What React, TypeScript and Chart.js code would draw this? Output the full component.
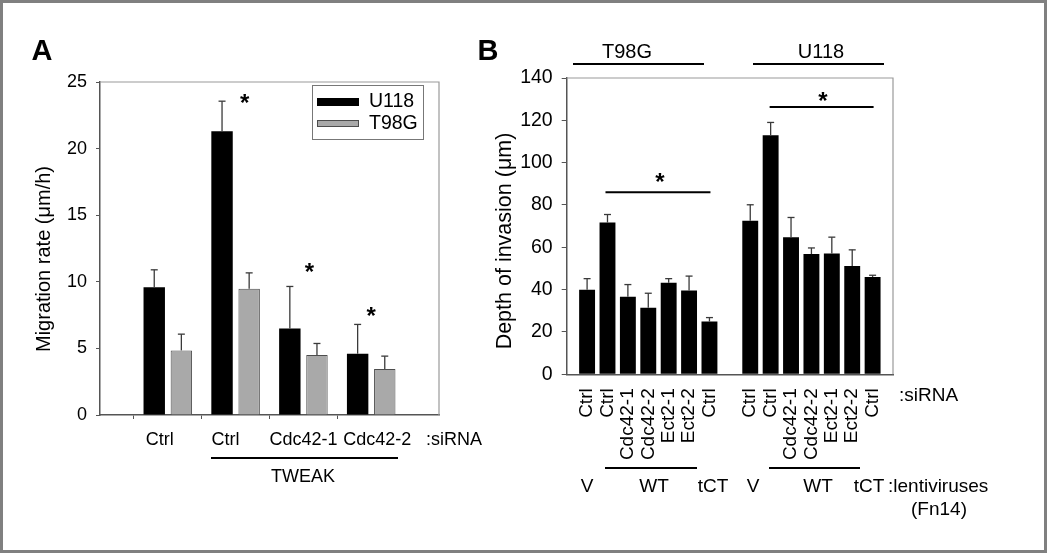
import React, { useEffect, useRef } from 'react';
import { Chart, registerables } from 'chart.js';
Chart.register(...registerables);

// ---------- Panel A data ----------
const migrationCategories = ['', 'Ctrl', 'Ctrl', 'Cdc42-1', 'Cdc42-2', ''];
const u118Migration = [null, 9.6, 21.3, 6.5, 4.6, null];
const u118MigrationErr = [null, 1.3, 2.26, 3.15, 2.2, null];
const t98gMigration = [null, 4.85, 9.47, 4.5, 3.45, null];
const t98gMigrationErr = [null, 1.22, 1.2, 0.87, 0.97, null];
const migrationYTicks = { min: 0, max: 25, step: 5 };

// ---------- Panel B data ----------
const invasionLabels = ['', 'Ctrl', 'Ctrl', 'Cdc42-1', 'Cdc42-2', 'Ect2-1', 'Ect2-2', 'Ctrl', '', 'Ctrl', 'Ctrl', 'Cdc42-1', 'Cdc42-2', 'Ect2-1', 'Ect2-2', 'Ctrl', ''];
const invasionDepth = [null, 39.9, 71.7, 36.7, 31.5, 43.3, 39.6, 24.9, null, 72.5, 113.0, 64.8, 56.8, 57.1, 51.2, 46.0, null];
const invasionErr = [null, 5.3, 3.8, 5.7, 6.8, 1.9, 6.8, 1.9, null, 7.6, 6.0, 9.3, 2.9, 7.7, 7.6, 0.8, null];
const invasionYTicks = { min: 0, max: 140, step: 20 };
const lentivirusLabels = ['V', 'WT', 'tCT', 'V', 'WT', 'tCT'];

const FONT = '"Liberation Sans", Arial, sans-serif';
const AXIS = '#555';

function text(ctx: CanvasRenderingContext2D, s: string, x: number, y: number, size: number, align: CanvasTextAlign = 'center', bold = false, rot = 0) {
  ctx.save();
  ctx.font = `${bold ? 'bold ' : ''}${size}px ${FONT}`;
  ctx.fillStyle = '#000';
  ctx.textAlign = align;
  ctx.textBaseline = 'middle';
  ctx.translate(x, y);
  if (rot) ctx.rotate(rot);
  ctx.fillText(s, 0, 0);
  ctx.restore();
}
function line(ctx: CanvasRenderingContext2D, x1: number, y1: number, x2: number, y2: number, w = 2, c = '#000') {
  ctx.save();
  ctx.strokeStyle = c;
  ctx.lineWidth = w;
  ctx.beginPath();
  ctx.moveTo(x1, y1);
  ctx.lineTo(x2, y2);
  ctx.stroke();
  ctx.restore();
}
function star(ctx: CanvasRenderingContext2D, x: number, y: number) {
  text(ctx, '*', x, y + 5, 24, 'center', true);
}
function frame(chart: any) {
  const { ctx, chartArea: a } = chart;
  ctx.save();
  ctx.strokeStyle = '#9a9a9a';
  ctx.lineWidth = 1.2;
  ctx.beginPath();
  ctx.moveTo(a.left, a.top);
  ctx.lineTo(a.right, a.top);
  ctx.lineTo(a.right, a.bottom);
  ctx.stroke();
  ctx.restore();
}
function errorBars(chart: any, errs: (number | null)[][]) {
  const { ctx } = chart;
  const y = chart.scales.y;
  errs.forEach((err, di) => {
    const meta = chart.getDatasetMeta(di);
    const vals = chart.data.datasets[di].data;
    meta.data.forEach((el: any, j: number) => {
      const v = vals[j];
      const e = err[j];
      if (v == null || e == null) return;
      const top = y.getPixelForValue(v + e);
      line(ctx, el.x, el.y, el.x, top, 1.3, '#3a3a3a');
      line(ctx, el.x - 3.5, top, el.x + 3.5, top, 1.3, '#3a3a3a');
    });
  });
}

const labelShiftA = [0, -8, -10, 0, 6, 0];

const annotA = {
  id: 'annotA',
  beforeDatasetsDraw(chart: any) {
    frame(chart);
  },
  afterDraw(chart: any) {
    const { ctx } = chart;
    const x = chart.scales.x;
    const y = chart.scales.y;
    errorBars(chart, [u118MigrationErr, t98gMigrationErr]);
    // category labels
    (chart.data.labels as string[]).forEach((s, i) => {
      if (s) text(ctx, s, x.getPixelForValue(i) + labelShiftA[i], 440, 18);
    });
    // significance stars
    star(ctx, x.getPixelForValue(2) + 9, y.getPixelForValue(23.7));
    star(ctx, x.getPixelForValue(3) + 6, y.getPixelForValue(11.0));
    star(ctx, x.getPixelForValue(4), y.getPixelForValue(7.7));
    // legend
    ctx.save();
    ctx.strokeStyle = '#777';
    ctx.lineWidth = 1;
    ctx.strokeRect(312.5, 85.5, 111, 54);
    ctx.fillStyle = '#000';
    ctx.fillRect(317, 98, 42, 8);
    ctx.fillStyle = '#a9a9a9';
    ctx.fillRect(317, 120, 42, 7);
    ctx.strokeStyle = '#4d4d4d';
    ctx.strokeRect(317.5, 120.5, 41, 6);
    ctx.restore();
    text(ctx, chart.data.datasets[0].label, 369, 102, 19.5, 'left');
    text(ctx, chart.data.datasets[1].label, 369, 124, 19.5, 'left');
    // labels
    text(ctx, ':siRNA', 426, 440, 18, 'left');
    line(ctx, 211, 458, 398, 458, 2.2);
    text(ctx, 'TWEAK', 303, 477, 18);
    text(ctx, 'A', 42, 52, 29, 'center', true);
    text(ctx, 'Migration rate (\u03bcm/h)', 44, 259, 20, 'center', false, -Math.PI / 2);
  },
};

const annotB = {
  id: 'annotB',
  beforeDatasetsDraw(chart: any) {
    frame(chart);
  },
  afterDraw(chart: any) {
    const { ctx } = chart;
    const x = chart.scales.x;
    const y = chart.scales.y;
    errorBars(chart, [invasionErr]);
    // group headers
    text(ctx, 'T98G', 627, 52, 20);
    line(ctx, 573, 64, 704, 64, 2.2);
    text(ctx, 'U118', 821, 52, 20);
    line(ctx, 753, 64, 884, 64, 2.2);
    // significance
    const y1 = y.getPixelForValue(86);
    line(ctx, x.getPixelForValue(2) - 2, y1, x.getPixelForValue(7) + 1, y1, 2);
    star(ctx, 660, 178);
    const y2 = y.getPixelForValue(126.3);
    line(ctx, x.getPixelForValue(10) - 1, y2, x.getPixelForValue(15) + 1, y2, 2);
    star(ctx, 823, 97);
    // labels
    text(ctx, ':siRNA', 899, 396, 19, 'left');
    line(ctx, 605, 468, 697, 468, 2.2);
    line(ctx, 769, 468, 860, 468, 2.2);
    const lx = [587, 654, 713, 753, 818, 869];
    lentivirusLabels.forEach((s, i) => text(ctx, s, lx[i], 487, 19));
    text(ctx, ':lentiviruses', 888, 487, 19, 'left');
    text(ctx, '(Fn14)', 939, 510, 19);
    text(ctx, 'B', 488, 52, 29, 'center', true);
    text(ctx, 'Depth of invasion (\u03bcm)', 505, 241, 21.5, 'center', false, -Math.PI / 2);
  },
};

export default function App() {
  const refA = useRef<HTMLCanvasElement>(null);
  const refB = useRef<HTMLCanvasElement>(null);
  useEffect(() => {
    document.body.style.margin = '0';
    const a = new Chart(refA.current as HTMLCanvasElement, {
      type: 'bar',
      data: {
        labels: migrationCategories,
        datasets: [
          { label: 'U118', data: u118Migration as any, backgroundColor: '#000', borderWidth: 0, barPercentage: 0.79, categoryPercentage: 0.8 },
          { label: 'T98G', data: t98gMigration as any, backgroundColor: '#a9a9a9', borderColor: '#4d4d4d', borderWidth: 1, barPercentage: 0.79, categoryPercentage: 0.8 },
        ],
      },
      options: {
        animation: false,
        responsive: false,
        maintainAspectRatio: false,
        layout: { padding: { left: 0, top: 82, right: 611, bottom: 0 } },
        plugins: { legend: { display: false }, tooltip: { enabled: false } },
        scales: {
          x: {
            offset: false,
            grid: {
              drawOnChartArea: false,
              tickLength: 4,
              tickColor: (c: any) => (c.index === 0 || c.index === migrationCategories.length - 1 ? 'rgba(0,0,0,0)' : AXIS),
            },
            border: { color: AXIS, width: 1.5 },
            ticks: { display: false, autoSkip: false },
            afterFit: (s: any) => { s.height = 142; },
          },
          y: {
            min: migrationYTicks.min,
            max: migrationYTicks.max,
            grid: { drawOnChartArea: false, tickLength: 4, tickColor: AXIS },
            border: { color: AXIS, width: 1.5 },
            ticks: { stepSize: migrationYTicks.step, color: '#000', font: { family: FONT, size: 18 }, padding: 9 },
            afterFit: (s: any) => { s.width = 100; },
          },
        },
      },
      plugins: [annotA],
    });
    const b = new Chart(refB.current as HTMLCanvasElement, {
      type: 'bar',
      data: {
        labels: invasionLabels,
        datasets: [
          { label: 'Depth', data: invasionDepth as any, backgroundColor: '#000', borderWidth: 0, barPercentage: 0.78, categoryPercentage: 1 },
        ],
      },
      options: {
        animation: false,
        responsive: false,
        maintainAspectRatio: false,
        layout: { padding: { left: 470, top: 78, right: 157, bottom: 0 } },
        plugins: { legend: { display: false }, tooltip: { enabled: false } },
        scales: {
          x: {
            offset: false,
            grid: { display: false, drawTicks: false },
            border: { color: AXIS, width: 1.5 },
            ticks: { color: '#000', font: { family: FONT, size: 19 }, padding: 14, minRotation: 90, maxRotation: 90, autoSkip: false },
            afterFit: (s: any) => { s.height = 182.7; },
          },
          y: {
            min: invasionYTicks.min,
            max: invasionYTicks.max,
            grid: { drawOnChartArea: false, tickLength: 5, tickColor: AXIS },
            border: { color: AXIS, width: 1.5 },
            ticks: { stepSize: invasionYTicks.step, color: '#000', font: { family: FONT, size: 19.5 }, padding: 9 },
            afterFit: (s: any) => { s.width = 96.7; },
          },
        },
      },
      plugins: [annotB],
    });
    return () => { a.destroy(); b.destroy(); };
  }, []);
  const cs: React.CSSProperties = { position: 'absolute', left: 0, top: 0, width: 1050, height: 557 };
  return (
    <div style={{ position: 'relative', width: 1050, height: 557, background: '#fff', overflow: 'hidden' }}>
      <div style={{ position: 'absolute', left: 0, top: 0, width: 1041, height: 547, border: '3px solid #808080' }} />
      <canvas ref={refA} width={1050} height={557} style={cs} />
      <canvas ref={refB} width={1050} height={557} style={cs} />
    </div>
  );
}
